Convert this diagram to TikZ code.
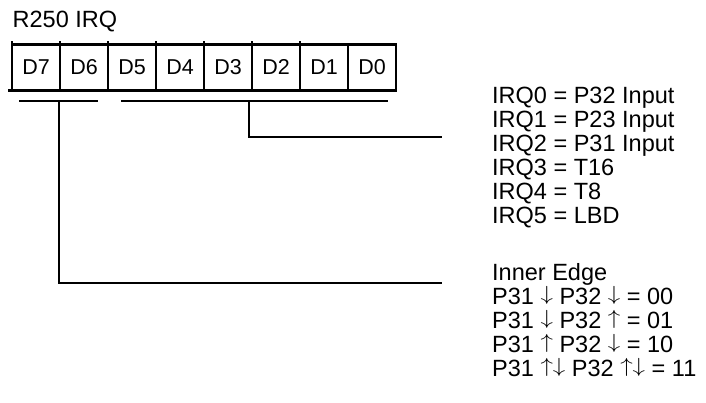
\documentclass[tikz,border=0pt]{standalone}
\usepackage{fontspec}
\setmainfont{Liberation Sans}
\usetikzlibrary{positioning}
\newcommand\arrdn{\raisebox{3.7pt}{\scalebox{1}[0.82]{$\downarrow$}}}
\newcommand\arrup{\raisebox{3.7pt}{\scalebox{1}[0.82]{$\uparrow$}}}
\newcommand\arrud{\raisebox{3.7pt}{\scalebox{1}[0.82]{$\uparrow\downarrow$}}}
\begin{document}
\begin{tikzpicture}[x=1pt,y=-1pt,
    cell/.style={draw,line width=1.3pt,minimum width=48pt,minimum height=46pt,inner sep=0pt,outer sep=0pt,font=\fontsize{21.5}{24}\selectfont},
    txt/.style={inner sep=0pt,align=left,font=\fontsize{23.5}{24}\selectfont},
    wire/.style={line width=1.7pt}]
  \useasboundingbox (0,0) rectangle (706,402);
  \node[txt,anchor=base west] (title) at (12.5,27.7) {R250 IRQ};
  \node[cell] (d7) at (36,67.4) {D7};
  \node[cell,right=0pt of d7] (d6) {D6};
  \node[cell,right=0pt of d6] (d5) {D5};
  \node[cell,right=0pt of d5] (d4) {D4};
  \node[cell,right=0pt of d4] (d3) {D3};
  \node[cell,right=0pt of d3] (d2) {D2};
  \node[cell,right=0pt of d2] (d1) {D1};
  \node[cell,right=0pt of d1] (d0) {D0};
  \draw[line width=2.7pt] (d7.north west) rectangle (d0.south east);
  \draw[line width=2.7pt] (d7.south west) -- ++(-4,0);
  \foreach \c in {d7,d6,d5,d4,d3,d2,d1}
    \draw[line width=1.3pt] (\c.north west) -- ++(0,-3.5);
  \coordinate (edgeL) at (19,101);
  \coordinate (edgeR) at (98,101);
  \coordinate (irqL) at (121,101);
  \coordinate (irqR) at (388,101);
  \draw[wire] (edgeL) -- (edgeR);
  \draw[wire] (irqL) -- (irqR);
  \coordinate (irqtap) at (249,101);
  \coordinate (irqend) at (442,137);
  \coordinate (edgetap) at (59,101);
  \coordinate (edgeend) at (442,283);
  \draw[wire] (irqtap) |- (irqend);
  \draw[wire] (edgetap) |- (edgeend);
  \node[txt,anchor=north west] (irqlist) at (492,86.5) {IRQ0 = P32 Input\\IRQ1 = P23 Input\\IRQ2 = P31 Input\\IRQ3 = T16\\IRQ4 = T8\\IRQ5 = LBD};
  \node[txt,anchor=north west] (edgelist) at (492,263) {Inner Edge\\P31 \arrdn{} P32 \arrdn{} = 00\\P31 \arrdn{} P32 \arrup{} = 01\\P31 \arrup{} P32 \arrdn{} = 10\\P31 \arrud{} P32 \arrud{} = 11};
\end{tikzpicture}
\end{document}
